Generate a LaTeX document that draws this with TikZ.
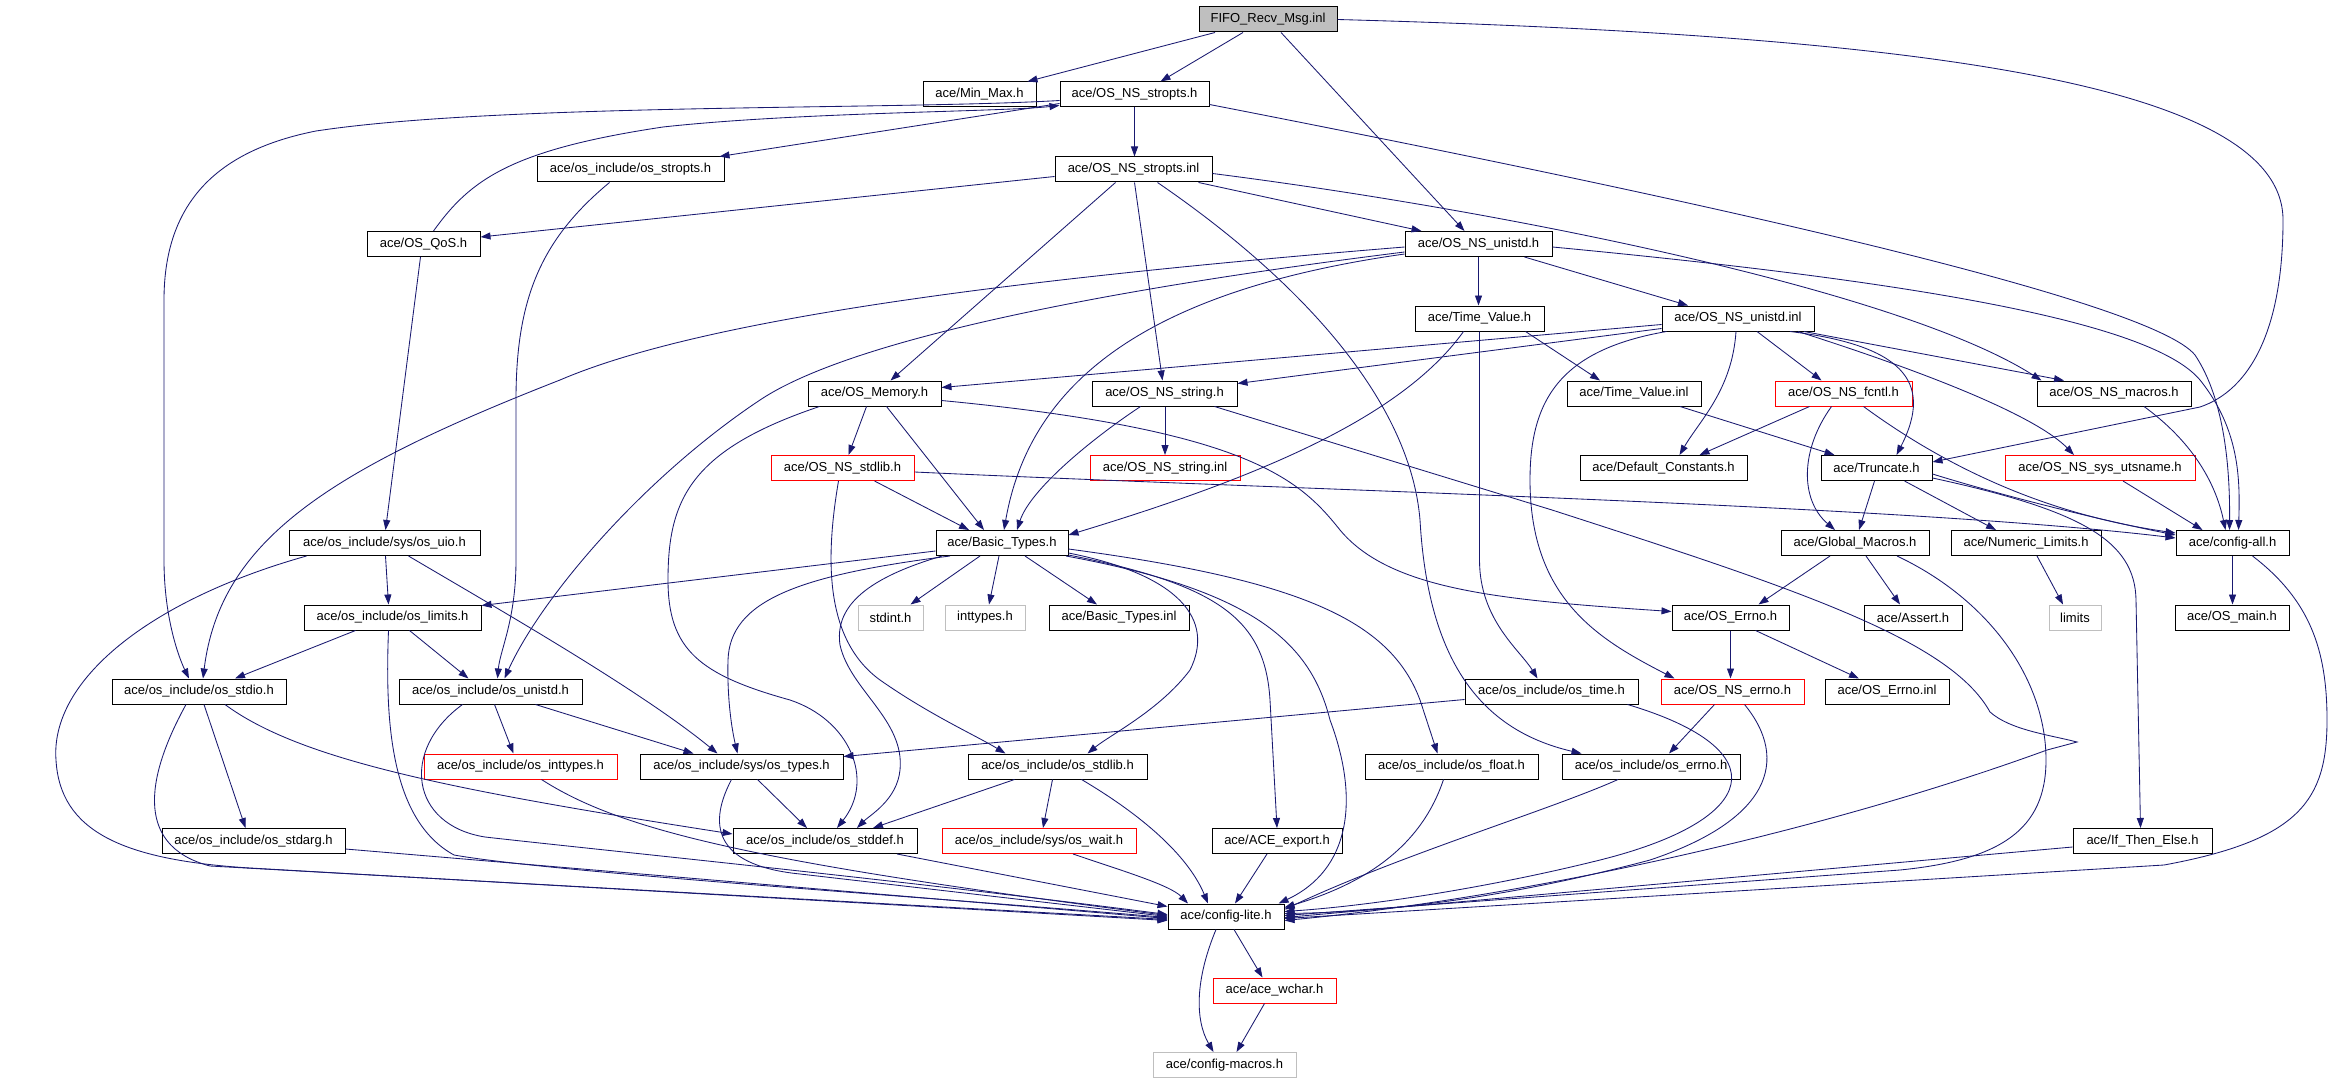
\documentclass[tikz,border=0pt]{standalone}
\usepackage{fontspec}
\setmainfont{Liberation Sans}
\usetikzlibrary{arrows.meta}
\definecolor{edgeblue}{HTML}{191970}
\definecolor{lgray}{HTML}{BFBFBF}
\tikzset{
  box/.style={draw=black, fill=white, line width=1pt, minimum height=25pt, inner sep=0pt,
              font=\fontsize{13}{15}\selectfont, text=black},
  redbox/.style={box, draw=red},
  graybox/.style={box, draw=lgray},
  rootbox/.style={box, fill=lgray},
  e/.style={draw=edgeblue, line width=0.85pt, -{Triangle[length=10pt,width=7pt]}}
}
\begin{document}
\begin{tikzpicture}[x=1pt,y=-1pt]
\fill[white] (0,0) rectangle (2352,1083);
\useasboundingbox (0,0) rectangle (2352,1083);

% ---------- nodes ----------
\node[rootbox, minimum width=138pt] (FIFO) at (1268,19.5) {FIFO\_Recv\_Msg.inl};
\node[box, minimum width=113pt] (minmax) at (979.5,94.5) {ace/Min\_Max.h};
\node[box, minimum width=149pt] (nsstropts) at (1134.5,94.5) {ace/OS\_NS\_stropts.h};
\node[box, minimum width=187pt] (osstropts) at (630.5,169.5) {ace/os\_include/os\_stropts.h};
\node[box, minimum width=157pt] (nsstroptsinl) at (1133.5,169.5) {ace/OS\_NS\_stropts.inl};
\node[box, minimum width=113pt] (qos) at (423.5,244) {ace/OS\_QoS.h};
\node[box, minimum width=147pt] (nsunistd) at (1478.5,244) {ace/OS\_NS\_unistd.h};
\node[box, minimum width=129pt] (timevalue) at (1479.5,318.5) {ace/Time\_Value.h};
\node[box, minimum width=152pt] (nsunistdinl) at (1738,318.5) {ace/OS\_NS\_unistd.inl};
\node[box, minimum width=133pt] (memory) at (874.5,393.5) {ace/OS\_Memory.h};
\node[box, minimum width=145pt] (nsstring) at (1164.5,393.5) {ace/OS\_NS\_string.h};
\node[box, minimum width=134pt] (timevalueinl) at (1634,393.5) {ace/Time\_Value.inl};
\node[redbox, minimum width=137pt] (nsfcntl) at (1843.5,393.5) {ace/OS\_NS\_fcntl.h};
\node[box, minimum width=154pt] (nsmacros) at (2114,393.5) {ace/OS\_NS\_macros.h};
\node[redbox, minimum width=143pt] (nsstdlib) at (842.5,468) {ace/OS\_NS\_stdlib.h};
\node[redbox, minimum width=150pt] (nsstringinl) at (1165,468) {ace/OS\_NS\_string.inl};
\node[box, minimum width=167pt] (defconst) at (1663.5,468) {ace/Default\_Constants.h};
\node[box, minimum width=111pt] (truncate) at (1876.5,468) {ace/Truncate.h};
\node[redbox, minimum width=190pt] (utsname) at (2100,468) {ace/OS\_NS\_sys\_utsname.h};
\node[box, minimum width=191pt] (osuio) at (384.5,543) {ace/os\_include/sys/os\_uio.h};
\node[box, minimum width=132pt] (basictypes) at (1002,543) {ace/Basic\_Types.h};
\node[box, minimum width=148pt] (globalmacros) at (1855,543) {ace/Global\_Macros.h};
\node[box, minimum width=150pt] (numlimits) at (2026,543) {ace/Numeric\_Limits.h};
\node[box, minimum width=113pt] (configall) at (2232.5,543) {ace/config-all.h};
\node[box, minimum width=177pt] (oslimits) at (392.5,617.5) {ace/os\_include/os\_limits.h};
\node[graybox, minimum width=65pt] (stdint) at (890.5,617.5) {stdint.h};
\node[graybox, minimum width=80pt] (inttypes) at (985,617.5) {inttypes.h};
\node[box, minimum width=140pt] (basictypesinl) at (1119,617.5) {ace/Basic\_Types.inl};
\node[box, minimum width=117pt] (oserrno) at (1730.5,617.5) {ace/OS\_Errno.h};
\node[box, minimum width=98pt] (assert) at (1913,617.5) {ace/Assert.h};
\node[graybox, minimum width=52pt] (limits) at (2075,617.5) {limits};
\node[box, minimum width=114pt] (osmain) at (2232,617.5) {ace/OS\_main.h};
\node[box, minimum width=174pt] (osstdio) at (199,691.5) {ace/os\_include/os\_stdio.h};
\node[box, minimum width=183pt] (osunistd) at (490.5,691.5) {ace/os\_include/os\_unistd.h};
\node[box, minimum width=173pt] (ostime) at (1551.5,691.5) {ace/os\_include/os\_time.h};
\node[redbox, minimum width=143pt] (nserrno) at (1732.5,691.5) {ace/OS\_NS\_errno.h};
\node[box, minimum width=124pt] (errnoinl) at (1887,691.5) {ace/OS\_Errno.inl};
\node[redbox, minimum width=193pt] (osinttypes) at (520.5,766.5) {ace/os\_include/os\_inttypes.h};
\node[box, minimum width=203pt] (systypes) at (741.5,766.5) {ace/os\_include/sys/os\_types.h};
\node[box, minimum width=179pt] (osstdlib) at (1057.5,766.5) {ace/os\_include/os\_stdlib.h};
\node[box, minimum width=173pt] (osfloat) at (1451.5,766.5) {ace/os\_include/os\_float.h};
\node[box, minimum width=178pt] (oserrnoh) at (1651,766.5) {ace/os\_include/os\_errno.h};
\node[box, minimum width=183pt] (stdarg) at (253.5,841) {ace/os\_include/os\_stdarg.h};
\node[box, minimum width=184pt] (stddef) at (825,841) {ace/os\_include/os\_stddef.h};
\node[redbox, minimum width=194pt] (oswait) at (1039,841) {ace/os\_include/sys/os\_wait.h};
\node[box, minimum width=130pt] (aceexport) at (1277,841) {ace/ACE\_export.h};
\node[box, minimum width=139pt] (ifthenelse) at (2142.5,841) {ace/If\_Then\_Else.h};
\node[box, minimum width=116pt] (configlite) at (1226,916.5) {ace/config-lite.h};
\node[redbox, minimum width=123pt] (wchar) at (1274.5,990.5) {ace/ace\_wchar.h};
\node[graybox, minimum width=143pt] (configmacros) at (1224.5,1065) {ace/config-macros.h};

% ---------- edges ----------
% FIFO
\draw[e] ([xshift=-53pt]FIFO.south) -- ([xshift=48pt]minmax.north);
\draw[e] ([xshift=-25pt]FIFO.south) -- ([xshift=26pt]nsstropts.north);
\draw[e] ([xshift=13pt]FIFO.south) -- ([xshift=-14pt]nsunistd.north);
\draw[e] (FIFO.east) .. controls (1900,35) and (2283,80) .. (2283,220) .. controls (2283,330) and (2250,390) .. (2200,407) -- ([yshift=6pt]truncate.east);
% OS_NS_stropts.h
\draw[e] ([yshift=-9pt]nsstropts.west) -- ([xshift=-5pt]osstropts.north east);
\draw[e] (nsstropts.south) -- (nsstropts.south |- nsstroptsinl.north);
\draw[e] ([yshift=-10pt]nsstropts.east) .. controls (1700,200) and (2150,300) .. (2195,355) .. controls (2225,400) and (2230,470) .. ([xshift=-3pt]configall.north);
\draw[e] ([yshift=-6pt]nsstropts.west) .. controls (900,110) and (500,103) .. (316,131) .. controls (220,150) and (164,200) .. (164,300) -- (164,560) .. controls (164,620) and (180,660) .. ([xshift=-10pt]osstdio.north);
% OS_QoS.h
\draw[e] ([xshift=10pt]qos.north) .. controls (470,180) and (510,150) .. (663,127) .. controls (800,112) and (1000,112) .. ([yshift=-11pt]nsstropts.west);
\draw[e] ([xshift=-3pt]qos.south) -- ([xshift=1pt]osuio.north);
% OS_NS_stropts.inl
\draw[e] ([yshift=-7pt]nsstroptsinl.west) -- ([yshift=7pt]qos.east);
\draw[e] ([xshift=65pt]nsstroptsinl.south) -- ([xshift=-57pt]nsunistd.north);
\draw[e] ([xshift=-18pt]nsstroptsinl.south) -- ([xshift=16pt]memory.north);
\draw[e] ([xshift=1pt]nsstroptsinl.south) -- ([xshift=-2pt]nsstring.north);
\draw[e] ([xshift=24pt]nsstroptsinl.south) .. controls (1300,280) and (1410,400) .. (1420,520) .. controls (1428,660) and (1480,730) .. ([xshift=20pt]oserrnoh.north west);
\draw[e] ([yshift=-4pt]nsstroptsinl.east) .. controls (1500,210) and (1900,290) .. ([xshift=5pt]nsmacros.north west);
% os_stropts.h
\draw[e] ([xshift=-21pt]osstropts.south) .. controls (540,240) and (516,300) .. (516,400) -- (516,560) .. controls (516,620) and (500,650) .. ([xshift=7pt]osunistd.north);
% OS_NS_unistd.h
\draw[e] (nsunistd.south) -- (nsunistd.south |- timevalue.north);
\draw[e] ([xshift=46pt]nsunistd.south) -- ([xshift=-50pt]nsunistdinl.north);
\draw[e] ([yshift=-3pt]nsunistd.west) .. controls (1000,280) and (700,320) .. (560,380) .. controls (330,470) and (220,540) .. ([xshift=4pt]osstdio.north);
\draw[e] ([yshift=-8pt]nsunistd.west) .. controls (1100,290) and (850,340) .. (760,400) .. controls (640,480) and (540,600) .. ([xshift=14pt]osunistd.north);
\draw[e] ([yshift=-10pt]nsunistd.west) .. controls (1150,290) and (1030,380) .. ([xshift=2pt]basictypes.north);
\draw[e] ([yshift=-3pt]nsunistd.east) .. controls (1900,280) and (2150,320) .. (2200,380) .. controls (2240,430) and (2240,480) .. ([xshift=6pt]configall.north);
% OS_NS_unistd.inl
\draw[e] ([yshift=-6pt]nsunistdinl.west) -- ([yshift=6pt]memory.east);
\draw[e] ([yshift=-10pt]nsunistdinl.west) -- ([yshift=10pt]nsstring.east);
\draw[e] ([xshift=-2pt]nsunistdinl.south) .. controls (1732,390) and (1700,420) .. ([xshift=16pt]defconst.north);
\draw[e] ([xshift=19pt]nsunistdinl.south) -- ([xshift=-22pt]nsfcntl.north);
\draw[e] ([xshift=52pt]nsunistdinl.south) .. controls (1900,345) and (1935,380) .. ([xshift=20pt]truncate.north);
\draw[e] ([xshift=66pt]nsunistdinl.south) -- ([xshift=-50pt]nsmacros.north);
\draw[e] ([xshift=60pt]nsunistdinl.south) .. controls (1950,380) and (2040,420) .. ([xshift=-26pt]utsname.north);
\draw[e] ([xshift=5pt]nsunistdinl.south west) .. controls (1560,350) and (1530,400) .. (1530,480) .. controls (1530,600) and (1600,640) .. ([xshift=14pt]nserrno.north west);
% Time_Value.h
\draw[e] ([xshift=46pt]timevalue.south) -- ([xshift=-34pt]timevalueinl.north);
\draw[e] ([xshift=-16pt]timevalue.south) .. controls (1400,420) and (1250,480) .. ([yshift=8pt]basictypes.east);
\draw[e] (timevalue.south) -- (1479.5,560) .. controls (1479.5,620) and (1520,650) .. ([xshift=-14pt]ostime.north);
\draw[e] ([xshift=46pt]timevalueinl.south) -- ([xshift=-42pt]truncate.north);
% OS_Memory.h
\draw[e] ([xshift=-8pt]memory.south) -- ([xshift=6pt]nsstdlib.north);
\draw[e] ([xshift=12pt]memory.south) -- ([xshift=-18pt]basictypes.north);
\draw[e] ([yshift=-7pt]memory.east) .. controls (1250,430) and (1300,480) .. (1340,530) .. controls (1390,590) and (1500,600) .. ([yshift=6pt]oserrno.west);
\draw[e] ([xshift=-55pt]memory.south) .. controls (690,450) and (668,500) .. (668,580) .. controls (668,650) and (700,675) .. (790,700) .. controls (850,720) and (875,780) .. ([xshift=12pt]stddef.north);
% OS_NS_string.h
\draw[e] ([xshift=0.5pt]nsstring.south) -- (nsstringinl.north);
\draw[e] ([xshift=-24pt]nsstring.south) .. controls (1090,440) and (1030,490) .. ([xshift=15pt]basictypes.north);
\draw[e] ([xshift=50pt]nsstring.south) -- (1552,510) .. controls (1800,590) and (1950,640) .. (1990,712) .. controls (2010,730) and (2050,735) .. (2077,742) -- (2047,750) .. controls (1800,840) and (1500,900) .. ([yshift=-4pt]configlite.east);
% OS_NS_stdlib.h
\draw[e] ([xshift=32pt]nsstdlib.south) -- ([xshift=-33pt]basictypes.north);
\draw[e] ([yshift=-4pt]nsstdlib.east) .. controls (1300,490) and (1900,505) .. ([yshift=5pt]configall.west);
\draw[e] ([xshift=-4pt]nsstdlib.south) .. controls (825,560) and (825,640) .. (880,680) .. controls (930,715) and (975,735) .. ([xshift=-52pt]osstdlib.north);
% Basic_Types.h
\draw[e] ([yshift=-8pt]basictypes.west) -- ([yshift=12pt]oslimits.east);
\draw[e] ([xshift=-52pt]basictypes.south) .. controls (800,575) and (730,600) .. (728,660) .. controls (727,700) and (732,730) .. ([xshift=-4pt]systypes.north);
\draw[e] ([xshift=-22pt]basictypes.south) -- ([xshift=20pt]stdint.north);
\draw[e] ([xshift=-3pt]basictypes.south) -- ([xshift=4pt]inttypes.north);
\draw[e] ([xshift=23pt]basictypes.south) -- ([xshift=-22pt]basictypesinl.north);
\draw[e] ([xshift=-60pt]basictypes.south) .. controls (860,580) and (835,610) .. (840,645) .. controls (850,690) and (905,720) .. (900,770) .. controls (897,800) and (870,815) .. ([xshift=32pt]stddef.north);
\draw[e] ([yshift=-10pt]basictypes.east) .. controls (1180,575) and (1215,620) .. (1190,670) .. controls (1160,710) and (1110,735) .. ([xshift=30pt]osstdlib.north);
\draw[e] ([yshift=-12pt]basictypes.east) .. controls (1220,585) and (1265,620) .. (1270,700) -- (aceexport.north);
\draw[e] ([xshift=64pt]basictypes.south) .. controls (1250,590) and (1310,640) .. (1330,720) .. controls (1360,800) and (1350,870) .. ([xshift=-6pt]configlite.north east);
\draw[e] ([yshift=-6pt]basictypes.east) .. controls (1300,580) and (1390,620) .. (1420,700) -- ([xshift=-14pt]osfloat.north);
% os_uio.h
\draw[e] ([xshift=1pt]osuio.south) -- ([xshift=-4pt]oslimits.north);
\draw[e] ([xshift=24pt]osuio.south) .. controls (500,610) and (640,690) .. ([xshift=-24pt]systypes.north);
\draw[e] ([xshift=-78pt]osuio.south) .. controls (150,600) and (50,680) .. (56,760) .. controls (60,830) and (120,860) .. (250,868) -- ([yshift=-4pt]configlite.west);
% os_limits.h
\draw[e] ([xshift=-37pt]oslimits.south) -- ([xshift=36pt]osstdio.north);
\draw[e] ([xshift=17pt]oslimits.south) -- ([xshift=-22pt]osunistd.north);
\draw[e] ([xshift=-4pt]oslimits.south) .. controls (385,720) and (390,820) .. (454,855) .. controls (550,872) and (900,895) .. ([yshift=-1pt]configlite.west);
% os_stdio.h
\draw[e] ([xshift=5pt]osstdio.south) -- ([xshift=-8pt]stdarg.north);
\draw[e] ([xshift=-13pt]osstdio.south) .. controls (150,770) and (130,845) .. (210,866) -- ([yshift=-3pt]configlite.west);
\draw[e] ([xshift=26pt]osstdio.south) .. controls (300,760) and (450,790) .. ([yshift=7pt]stddef.west);
% os_unistd.h
\draw[e] ([xshift=4pt]osunistd.south) -- ([xshift=-7pt]osinttypes.north);
\draw[e] ([xshift=45pt]osunistd.south) -- ([xshift=-48pt]systypes.north);
\draw[e] ([xshift=-28pt]osunistd.south) .. controls (400,750) and (410,825) .. (485,837) .. controls (600,850) and (900,880) .. ([yshift=2pt]configlite.west);
\draw[e] ([xshift=21pt]osinttypes.south) .. controls (620,830) and (750,862) .. ([yshift=1pt]configlite.west);
% sys/os_types.h
\draw[e] ([xshift=16pt]systypes.south) -- ([xshift=-18pt]stddef.north);
\draw[e] ([xshift=-10pt]systypes.south) .. controls (705,830) and (720,866) .. (800,874) -- ([yshift=0pt]configlite.west);
\draw[e] ([xshift=72pt]stddef.south) -- ([yshift=10pt]configlite.west);
\draw[e] ([yshift=-8pt]stdarg.east) -- ([yshift=-2pt]configlite.west);
% os_stdlib.h
\draw[e] ([xshift=-43pt]osstdlib.south) -- ([xshift=48pt]stddef.north);
\draw[e] ([xshift=-5pt]osstdlib.south) -- ([xshift=4pt]oswait.north);
\draw[e] ([xshift=24pt]osstdlib.south) .. controls (1150,820) and (1190,860) .. ([xshift=-18pt]configlite.north);
\draw[e] ([xshift=34pt]oswait.south) .. controls (1120,870) and (1170,885) .. ([xshift=-38pt]configlite.north);
\draw[e] ([xshift=-10pt]aceexport.south) -- ([xshift=9pt]configlite.north);
\draw[e] ([xshift=-8pt]osfloat.south) .. controls (1420,850) and (1360,885) .. ([yshift=9pt]configlite.east);
\draw[e] ([xshift=-33pt]oserrnoh.south) .. controls (1550,810) and (1400,855) .. ([yshift=7pt]configlite.east);
% os_time.h
\draw[e] ([yshift=-8pt]ostime.west) -- ([yshift=10pt]systypes.east);
\draw[e] ([xshift=76pt]ostime.south) .. controls (1780,750) and (1760,820) .. (1600,860) .. controls (1500,885) and (1380,905) .. ([yshift=5pt]configlite.east);
% OS_NS_errno.h
\draw[e] ([xshift=-18pt]nserrno.south) -- ([xshift=18pt]oserrnoh.north);
\draw[e] ([xshift=12pt]nserrno.south) .. controls (1790,760) and (1770,820) .. (1650,860) .. controls (1500,900) and (1380,912) .. ([yshift=3pt]configlite.east);
% Global_Macros.h
\draw[e] ([xshift=-25pt]globalmacros.south) -- ([xshift=28pt]oserrno.north);
\draw[e] ([xshift=11pt]globalmacros.south) -- ([xshift=-13pt]assert.north);
\draw[e] ([xshift=42pt]globalmacros.south) .. controls (1990,600) and (2046,680) .. (2046,760) .. controls (2046,830) and (2000,860) .. (1900,870) -- ([yshift=1pt]configlite.east);
% OS_Errno.h
\draw[e] (oserrno.south) -- (oserrno.south |- nserrno.north);
\draw[e] ([xshift=25pt]oserrno.south) -- ([xshift=-28pt]errnoinl.north);
% Truncate.h
\draw[e] ([xshift=-2pt]truncate.south) -- ([xshift=4pt]globalmacros.north);
\draw[e] ([xshift=28pt]truncate.south) -- ([xshift=-30pt]numlimits.north);
\draw[e] ([yshift=-6pt]truncate.east) .. controls (2000,495) and (2100,520) .. ([yshift=8pt]configall.west);
\draw[e] ([yshift=-10pt]truncate.east) .. controls (2080,510) and (2135,540) .. (2136,600) -- ([xshift=-2pt]ifthenelse.north);
% OS_NS_fcntl.h
\draw[e] ([xshift=-34pt]nsfcntl.south) -- ([xshift=36pt]defconst.north);
\draw[e] ([xshift=-12pt]nsfcntl.south) .. controls (1800,450) and (1800,500) .. ([xshift=-20pt]globalmacros.north);
\draw[e] ([xshift=20pt]nsfcntl.south) .. controls (1950,470) and (2050,515) .. ([yshift=10pt]configall.west);
% others
\draw[e] ([xshift=30pt]nsmacros.south) .. controls (2190,440) and (2215,480) .. ([xshift=-7pt]configall.north);
\draw[e] ([xshift=23pt]utsname.south) -- ([xshift=-30pt]configall.north);
\draw[e] ([xshift=11pt]numlimits.south) -- ([xshift=-12pt]limits.north);
\draw[e] (configall.south) -- (configall.south |- osmain.north);
\draw[e] ([xshift=20pt]configall.south) .. controls (2310,600) and (2327,650) .. (2327,720) .. controls (2327,800) and (2300,840) .. (2164,865) -- ([yshift=-2pt]configlite.east);
\draw[e] ([yshift=-6pt]ifthenelse.west) -- ([yshift=-1pt]configlite.east);
% config-lite.h
\draw[e] ([xshift=8pt]configlite.south) -- ([xshift=-12pt]wchar.north);
\draw[e] ([xshift=-10pt]configlite.south) .. controls (1195,980) and (1195,1020) .. ([xshift=-11pt]configmacros.north);
\draw[e] ([xshift=-10pt]wchar.south) -- ([xshift=12pt]configmacros.north);
\end{tikzpicture}
\end{document}
